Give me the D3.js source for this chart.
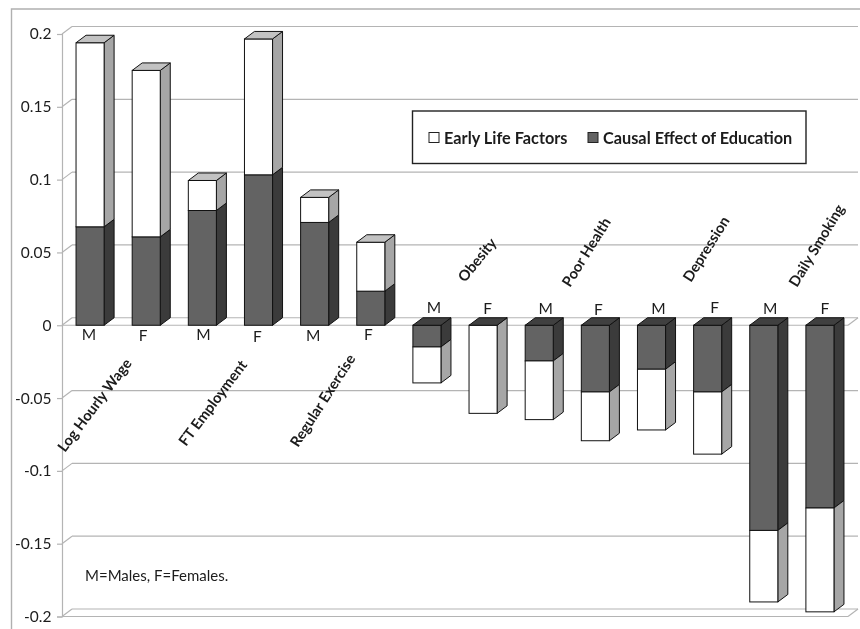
<!DOCTYPE html>
<html>
<head>
<meta charset="utf-8">
<script src="https://d3js.org/d3.v7.min.js"></script>
<style>
  html, body { margin: 0; padding: 0; background: #fff; }
  svg { display: block; filter: blur(0.35px); }
  text { font-family: Lato, "Open Sans", sans-serif; fill: #1c1c1c; }
</style>
</head>
<body>
<svg id="chart" width="860" height="629"></svg>
<script>
var categories = ['Log Hourly Wage', 'FT Employment', 'Regular Exercise', 'Obesity', 'Poor Health', 'Depression', 'Daily Smoking'];
var sexes = ['M', 'F'];
var seriesNames = ['Early Life Factors', 'Causal Effect of Education'];
var causal = [0.0676, 0.0607, 0.0788, 0.1033, 0.0706, 0.0234, -0.0149, 0, -0.0245, -0.0458, -0.0302, -0.0458, -0.1409, -0.1255];
var early = [0.1264, 0.1143, 0.0206, 0.0933, 0.0172, 0.0336, -0.0247, -0.0605, -0.0403, -0.0335, -0.0417, -0.0427, -0.0491, -0.0713];
var tickValues = [0.2, 0.15, 0.1, 0.05, 0, -0.05, -0.1, -0.15, -0.2];
var tickLabels = ['0.2', '0.15', '0.1', '0.05', '0', '-0.05', '-0.1', '-0.15', '-0.2'];
var note = 'M=Males, F=Females.';

var DX = 10, DY = -7.5;   // depth of the fake 3d
var LEFT = 62, RIGHT = 848;

var svg = d3.select('#chart');

var rows = causal.map(function(c, i) {
  return { id: i, causal: c, early: early[i] };
});

var x = d3.scaleBand().domain(rows.map(function(d) { return d.id; })).range([LEFT, RIGHT]).paddingInner(0.5).paddingOuter(0.25);
var y = d3.scaleLinear().domain([-0.2, 0.2]).range([616.5, 34]);

var stacked = d3.stack().keys(['causal', 'early']).offset(d3.stackOffsetDiverging)(rows);

// frame, cut off by the page on the right and at the bottom
svg.append('path').attr('d', 'M11.5,629V9H860').attr('fill', 'none').attr('stroke', '#b0b0b0').attr('stroke-width', 1.4);

// back wall lines
var GRID = '#b4b4b4';
tickValues.forEach(function(t) {
  svg.append('line').attr('x1', LEFT + DX).attr('x2', RIGHT + DX).attr('y1', y(t) + DY).attr('y2', y(t) + DY)
    .attr('stroke', GRID).attr('stroke-width', 1.2);
  svg.append('line').attr('x1', LEFT).attr('x2', LEFT + DX).attr('y1', y(t)).attr('y2', y(t) + DY)
    .attr('stroke', GRID).attr('stroke-width', 1.2);
});

// floor plates at zero and at the bottom
[0, -0.2].forEach(function(t) {
  svg.append('line').attr('x1', LEFT).attr('x2', RIGHT).attr('y1', y(t)).attr('y2', y(t))
    .attr('stroke', GRID).attr('stroke-width', 1.2);
  svg.append('line').attr('x1', RIGHT).attr('x2', RIGHT + DX).attr('y1', y(t)).attr('y2', y(t) + DY)
    .attr('stroke', GRID).attr('stroke-width', 1.2);
});

var axis = d3.axisLeft(y).tickValues(tickValues).tickSize(5).tickPadding(5.5)
  .tickFormat(function(d, i) { return tickLabels[i]; });
var axisG = svg.append('g').attr('transform', 'translate(' + LEFT + ',0)').call(axis);
axisG.selectAll('path, line').attr('stroke', GRID).attr('stroke-width', 1.2);
axisG.selectAll('text').style('font-size', '15.5px').attr('fill', '#1c1c1c');

var colors = {
  causal: { front: '#636363', side: '#3b3b3b', top: '#404040' },
  early: { front: '#ffffff', side: '#a6a6a6', top: '#c2c2c2' }
};
var EDGE = '#111';

function poly(points) { return points.map(function(p) { return p.join(','); }).join(' '); }

rows.forEach(function(row, i) {
  var x0 = x(row.id), x1 = x0 + x.bandwidth();
  var g = svg.append('g').attr('class', 'bar');
  var capSeries = null, capY = null;

  stacked.forEach(function(s) {
    var seg = s[i];
    var top = Math.min(y(seg[0]), y(seg[1]));
    var bottom = Math.max(y(seg[0]), y(seg[1]));
    var c = colors[s.key];
    g.append('polygon').attr('points', poly([[x1, top], [x1 + DX, top + DY], [x1 + DX, bottom + DY], [x1, bottom]]))
      .attr('fill', c.side).attr('stroke', EDGE).attr('stroke-width', 1);
    g.append('rect').attr('x', x0).attr('y', top).attr('width', x1 - x0).attr('height', bottom - top)
      .attr('fill', c.front).attr('stroke', EDGE).attr('stroke-width', 1);
    if (capY == null || top < capY) { capY = top; capSeries = s.key; }
  });

  // the top face belongs to whichever segment reaches highest
  if (row.causal + row.early < 0) capSeries = 'causal';
  g.append('polygon').attr('points', poly([[x0, capY], [x0 + DX, capY + DY], [x1 + DX, capY + DY], [x1, capY]]))
    .attr('fill', colors[capSeries].top).attr('stroke', EDGE).attr('stroke-width', 1);
});

// M / F labels were placed by hand in the original so they wander a bit
var sexNudge = [-1, -3, 1, -1, -1.5, -2.5, 7, 4.5, 6.5, 3, 7, 7, 6.5, 5];
var sexY = [340, 341, 340, 342, 341, 340, 313, 314, 314, 315, 314, 313, 314, 314];
rows.forEach(function(row, i) {
  svg.append('text').attr('x', x(row.id) + x.bandwidth() / 2 + sexNudge[i]).attr('y', sexY[i])
    .attr('text-anchor', 'middle').style('font-size', '15.5px').text(sexes[i % 2]);
});

// category names, each one was rotated by hand
var catPos = [[65, 453], [186, 447], [298, 448], [465, 283], [570, 288], [691, 283], [797, 288]];
var catAngle = [-53, -53, -57, -51, -58, -58, -59];
categories.forEach(function(name, i) {
  svg.append('text').attr('transform', 'translate(' + catPos[i][0] + ',' + catPos[i][1] + ') rotate(' + catAngle[i] + ')')
    .style('font-size', '14.7px').style('font-weight', 700).text(name);
});

// legend
svg.append('rect').attr('x', 412.5).attr('y', 111).attr('width', 393.5).attr('height', 52.5)
  .attr('fill', '#fff').attr('stroke', '#222').attr('stroke-width', 1.4);
var legendKeys = ['early', 'causal'];
var legendX = [429, 588];
seriesNames.forEach(function(name, i) {
  svg.append('rect').attr('x', legendX[i]).attr('y', 132.5).attr('width', 10).attr('height', 10)
    .attr('fill', colors[legendKeys[i]].front).attr('stroke', '#222').attr('stroke-width', 1);
  svg.append('text').attr('x', legendX[i] + 15).attr('y', 143.5)
    .style('font-size', '16.3px').style('font-weight', 700).text(name);
});

svg.append('text').attr('x', 85).attr('y', 581).style('font-size', '15px').text(note);
</script>
</body>
</html>
